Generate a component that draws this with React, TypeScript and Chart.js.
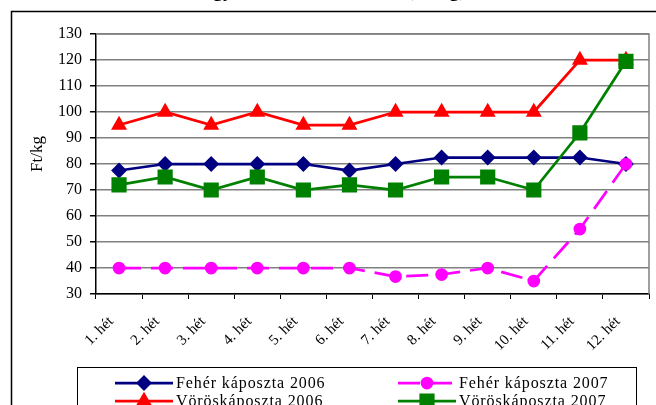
import React, { useEffect, useRef } from "react";
import { Chart, registerables } from "chart.js";
import { drawPoint } from "chart.js/helpers";

Chart.register(...registerables);

const categories = ["1. hét", "2. hét", "3. hét", "4. hét", "5. hét", "6. hét", "7. hét", "8. hét", "9. hét", "10. hét", "11. hét", "12. hét"];
const feher2006 = [77.5, 80, 80, 80, 80, 77.5, 80, 82.5, 82.5, 82.5, 82.5, 80];
const voros2006 = [95, 100, 95, 100, 95, 95, 100, 100, 100, 100, 120, 120];
const feher2007 = [40, 40, 40, 40, 40, 40, 36.7, 37.5, 40, 35, 55, 80];
const voros2007 = [72, 75, 70, 75, 70, 72, 70, 75, 75, 70, 92, 119.5];
const seriesLabels = ["Fehér káposzta 2006", "Vöröskáposzta 2006", "Fehér káposzta 2007", "Vöröskáposzta 2007"];
const yMin = 30;
const yMax = 130;
const yStep = 10;
const yAxisTitle = "Ft/kg";
const titleText = "Nagybani árak alakulása (Ft/kg)";

const SERIF = "'Liberation Serif', 'Times New Roman', serif";

const decorPlugin = {
  id: "decor",
  beforeDraw(chart: any) {
    const ctx = chart.ctx;
    ctx.save();
    ctx.fillStyle = "#ffffff";
    ctx.fillRect(0, 0, chart.width, chart.height);
    ctx.restore();
  },
  beforeDatasetsDraw(chart: any) {
    const { ctx, chartArea: a } = chart;
    ctx.save();
    ctx.strokeStyle = "#808080";
    ctx.lineWidth = 1.5;
    ctx.beginPath();
    ctx.moveTo(a.left, a.top);
    ctx.lineTo(a.right, a.top);
    ctx.lineTo(a.right, a.bottom);
    ctx.stroke();
    ctx.restore();
  },
  afterDraw(chart: any) {
    const ctx = chart.ctx;
    ctx.save();
    // outer frame
    ctx.strokeStyle = "#000000";
    ctx.lineWidth = 1.5;
    ctx.beginPath();
    ctx.moveTo(11.5, chart.height);
    ctx.lineTo(11.5, 11.5);
    ctx.lineTo(chart.width, 11.5);
    ctx.stroke();

    // title (cut off at top)
    ctx.font = "bold 20px " + SERIF;
    ctx.fillStyle = "#000000";
    ctx.textBaseline = "alphabetic";
    ctx.textAlign = "left";
    const pre = ctx.measureText("Na").width;
    ctx.fillText(titleText, 213 - pre, -4.5);

    // y axis title
    ctx.save();
    ctx.translate(38, 154);
    ctx.rotate(-Math.PI / 2);
    ctx.font = "17px " + SERIF;
    ctx.textAlign = "center";
    ctx.textBaseline = "middle";
    ctx.fillText(yAxisTitle, 0, 0);
    ctx.restore();

    // legend box
    ctx.strokeStyle = "#000000";
    ctx.lineWidth = 1;
    ctx.strokeRect(77.5, 367.5, 559, 60);

    const pos = [
      { x: 115, y: 383 },
      { x: 115, y: 401 },
      { x: 398, y: 383 },
      { x: 398, y: 401 },
    ];
    ctx.font = "16px " + SERIF;
    ctx.textBaseline = "middle";
    ctx.textAlign = "left";
    chart.data.datasets.forEach((ds: any, i: number) => {
      const p = pos[i];
      ctx.save();
      ctx.strokeStyle = ds.borderColor;
      ctx.lineWidth = ds.borderWidth;
      ctx.setLineDash(ds.borderDash || []);
      ctx.beginPath();
      ctx.moveTo(p.x, p.y);
      ctx.lineTo(p.x + 58, p.y);
      ctx.stroke();
      ctx.setLineDash([]);
      ctx.fillStyle = ds.pointBackgroundColor;
      ctx.strokeStyle = ds.pointBorderColor;
      drawPoint(ctx, { pointStyle: ds.pointStyle, radius: ds.pointRadius, borderWidth: 1, rotation: 0 }, p.x + 29, p.y);
      ctx.restore();
      ctx.save();
      ctx.fillStyle = "#000000";
      try { (ctx as any).letterSpacing = "0.9px"; } catch (e) {}
      ctx.fillText(ds.label, p.x + 61, p.y + 1);
      ctx.restore();
    });
    ctx.restore();
  },
};

export default function App() {
  const ref = useRef<HTMLCanvasElement | null>(null);
  useEffect(() => {
    if (!ref.current) return;
    const chart = new Chart(ref.current, {
      type: "line",
      data: {
        labels: categories,
        datasets: [
          {
            label: seriesLabels[0],
            data: feher2006,
            borderColor: "#000080",
            backgroundColor: "#000080",
            pointBackgroundColor: "#000080",
            pointBorderColor: "#000080",
            borderWidth: 2.75,
            pointStyle: "rectRot",
            pointRadius: 6,
            order: 3,
          },
          {
            label: seriesLabels[1],
            data: voros2006,
            borderColor: "#ff0000",
            backgroundColor: "#ff0000",
            pointBackgroundColor: "#ff0000",
            pointBorderColor: "#ff0000",
            borderWidth: 2.75,
            pointStyle: "triangle",
            pointRadius: 6.5,
            order: 2,
          },
          {
            label: seriesLabels[2],
            data: feher2007,
            borderColor: "#ff00ff",
            backgroundColor: "#ff00ff",
            pointBackgroundColor: "#ff00ff",
            pointBorderColor: "#ff00ff",
            borderWidth: 2.75,
            borderDash: [22, 10],
            pointStyle: "circle",
            pointRadius: 5,
            order: 1,
          },
          {
            label: seriesLabels[3],
            data: voros2007,
            borderColor: "#008000",
            backgroundColor: "#008000",
            pointBackgroundColor: "#008000",
            pointBorderColor: "#008000",
            borderWidth: 2.75,
            pointStyle: "rect",
            pointRadius: 8.8,
            order: 0,
          },
        ],
      },
      options: {
        animation: false,
        responsive: false,
        maintainAspectRatio: false,
        layout: { autoPadding: false, padding: { left: 0, top: 34, right: 7, bottom: 0 } },
        plugins: {
          legend: { display: false },
          tooltip: { enabled: false },
          title: { display: false },
        },
        elements: { line: { tension: 0, fill: false } },
        scales: {
          x: {
            offset: true,
            grid: {
              offset: true,
              drawOnChartArea: false,
              drawTicks: true,
              tickLength: 5,
              tickColor: "#000000",
              lineWidth: 1,
            },
            border: { color: "#000000", width: 1.5 },
            ticks: {
              autoSkip: false,
              maxRotation: 45,
              minRotation: 45,
              padding: 14,
              labelOffset: -8,
              color: "#000000",
              font: { family: SERIF, size: 15 },
            },
            afterFit: (s: any) => {
              s.height = 111;
              s.paddingLeft = 0;
              s.paddingRight = 0;
            },
          },
          y: {
            min: yMin,
            max: yMax,
            ticks: {
              stepSize: yStep,
              padding: 8,
              color: "#000000",
              font: { family: SERIF, size: 16 },
            },
            grid: {
              color: "#808080",
              lineWidth: 1.5,
              tickLength: 6,
              tickColor: "#000000",
            },
            border: { color: "#000000", width: 1.5 },
            afterFit: (s: any) => {
              s.width = 96;
              s.paddingTop = 0;
              s.paddingBottom = 0;
            },
          },
        },
      },
      plugins: [decorPlugin],
    });
    return () => chart.destroy();
  }, []);
  return (
    <div style={{ position: "absolute", left: 0, top: 0, width: 656, height: 405 }}>
      <canvas ref={ref} width={656} height={405} style={{ width: 656, height: 405, display: "block" }} />
    </div>
  );
}
